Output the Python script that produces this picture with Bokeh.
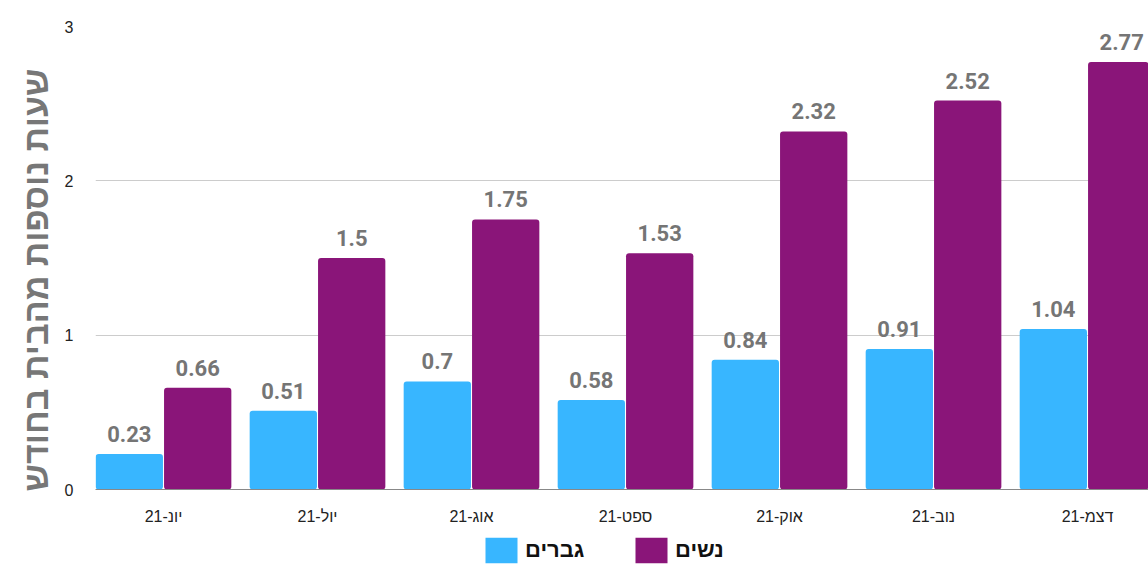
from bokeh.plotting import figure
from bokeh.layouts import column
from bokeh.models import Range1d, FixedTicker, Legend, LegendItem, ColumnDataSource, Title
from bokeh.core.properties import value
from bokeh.embed import file_html
from bokeh.resources import INLINE

months = ["יונ-21", "יול-21", "אוג-21", "ספט-21", "אוק-21", "נוב-21", "דצמ-21"]
men = [0.23, 0.51, 0.7, 0.58, 0.84, 0.91, 1.04]
women = [0.66, 1.5, 1.75, 1.53, 2.32, 2.52, 2.77]
series_names = ["גברים", "נשים"]
y_ticks = [0, 1, 2, 3]
y_title = "שעות נוספות מהבית בחודש"

BLUE = "#38B6FF"
PURPLE = "#8A1579"
LABEL_GRAY = "#757575"

idx = list(range(len(months)))
off = 0.222
bw = 0.437

p = figure(width=1148, height=527, output_backend="svg", toolbar_location=None,
           x_range=Range1d(-0.4416, 6.396), y_range=Range1d(0, 3),
           min_border_left=95, min_border_right=0, min_border_top=26,
           min_border_bottom=38)
p.outline_line_color = None
p.background_fill_color = "white"
p.border_fill_color = "white"

src_m = ColumnDataSource(dict(x=[i - off for i in idx], top=men,
                              lab=[f"{v:g}" for v in men]))
src_w = ColumnDataSource(dict(x=[i + off for i in idx], top=women,
                              lab=[f"{v:g}" for v in women]))

p.vbar(x="x", top="top", width=bw, source=src_m, fill_color=BLUE,
       line_color=None, border_radius=3)
p.vbar(x="x", top="top", width=bw, source=src_w, fill_color=PURPLE,
       line_color=None, border_radius=3)

for src in (src_m, src_w):
    p.text(x="x", y="top", text="lab", source=src, text_align="center",
           text_baseline="bottom", y_offset=-12, text_color=LABEL_GRAY,
           text_font=value("Roboto"), text_font_style="bold",
           text_font_size="22px")

# axes
p.xaxis.ticker = FixedTicker(ticks=idx)
p.xaxis.major_label_overrides = {i: m for i, m in zip(idx, months)}
p.xaxis.major_tick_line_color = None
p.xaxis.minor_tick_line_color = None
p.xaxis.axis_line_color = "#888888"
p.xaxis.major_label_text_font = "Liberation Sans"
p.xaxis.major_label_text_font_size = "16px"
p.xaxis.major_label_text_color = "#222222"
p.xaxis.major_label_standoff = 12

p.yaxis.ticker = FixedTicker(ticks=y_ticks)
p.yaxis.major_tick_line_color = None
p.yaxis.minor_tick_line_color = None
p.yaxis.axis_line_color = None
p.yaxis.major_label_text_font = "Liberation Sans"
p.yaxis.major_label_text_font_size = "16px"
p.yaxis.major_label_text_color = "#222222"
p.yaxis.major_label_standoff = 16

p.add_layout(Title(text=y_title, align="left", offset=-2,
                   text_font="Liberation Sans", text_font_size="34px",
                   text_font_style="bold", text_color="#777777",
                   standoff=13), "left")

p.xgrid.grid_line_color = None
p.ygrid.grid_line_color = "#cccccc"

# legend strip (keys drawn from the same series, kept out of its view)
lg = figure(width=1148, height=39, output_backend="svg", toolbar_location=None,
            x_range=Range1d(0, 1), y_range=Range1d(10, 11),
            x_axis_type=None, y_axis_type=None,
            min_border_left=0, min_border_right=0, min_border_top=0,
            min_border_bottom=0)
lg.outline_line_color = None
lg.xgrid.visible = False
lg.ygrid.visible = False
k1 = lg.vbar(x="x", top="top", width=bw, source=src_m, fill_color=BLUE, line_color=None)
k2 = lg.vbar(x="x", top="top", width=bw, source=src_w, fill_color=PURPLE, line_color=None)

legend = Legend(items=[LegendItem(label=series_names[0], renderers=[k1]),
                       LegendItem(label=series_names[1], renderers=[k2])],
                location=(386, 0), orientation="horizontal",
                glyph_width=40, glyph_height=32, label_height=32,
                label_width=90, label_standoff=4, spacing=16,
                padding=0, margin=0,
                border_line_color=None, background_fill_alpha=0,
                label_text_font="Liberation Sans", label_text_font_style="bold",
                label_text_font_size="22px", label_text_color="#111111")
lg.add_layout(legend, "center")

layout = column(p, lg, spacing=0)
open("out.html", "w").write(file_html(layout, INLINE))
